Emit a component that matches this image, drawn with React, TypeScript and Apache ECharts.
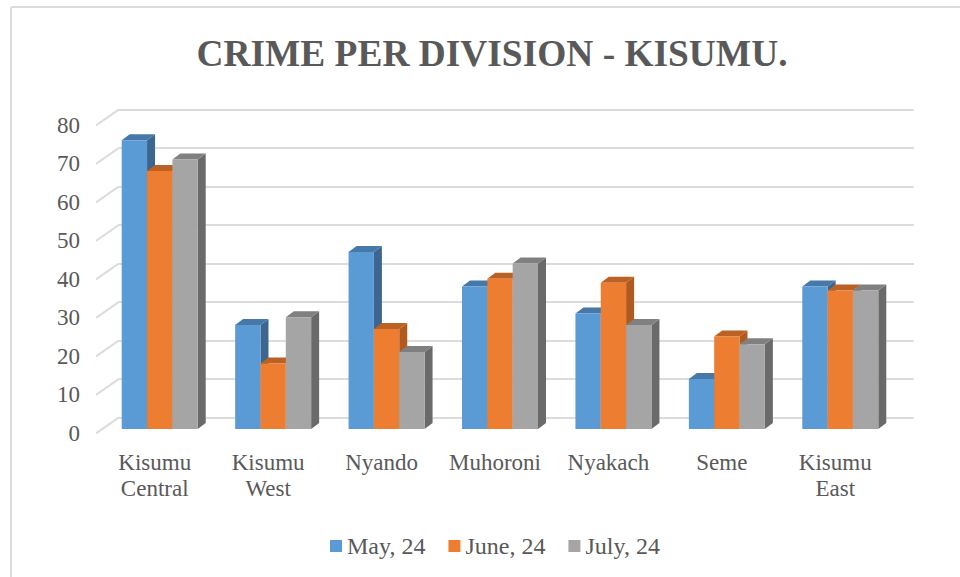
import React, { useEffect, useRef } from "react";
import * as echarts from "echarts";

const categories = ["Kisumu Central", "Kisumu West", "Nyando", "Muhoroni", "Nyakach", "Seme", "Kisumu East"];
const may = [75, 27, 46, 37, 30, 13, 37];
const june = [67, 17, 26, 39, 38, 24, 36];
const july = [70, 29, 20, 43, 27, 22, 36];
const ticks = [0, 10, 20, 30, 40, 50, 60, 70, 80];
const seriesNames = ["May, 24", "June, 24", "July, 24"];
const faces = [
  { front: "#5b9bd5", top: "#4679a8", side: "#3c6690" },
  { front: "#ed7d31", top: "#bb6124", side: "#b05a20" },
  { front: "#a5a5a5", top: "#808080", side: "#6a6a6a" },
];

const FONT = "'Liberation Serif', serif";
const TEXT = "#595959";
const LINE = "#dcdcdc";
const SHIFT_X = 5;
const SHIFT_Y = -4;
const DEPTH_X = 8;
const DEPTH_Y = 6;

function barRenderer(seriesIndex: number) {
  const face = faces[seriesIndex];
  return (_p: any, api: any) => {
    const cat = api.value(0);
    const val = api.value(1);
    const top = api.coord([cat, val]);
    const base = api.coord([cat, 0]);
    const band = api.size([1, 0])[0];
    const w = (band * 0.67) / 3;
    const x0 = top[0] + SHIFT_X + (seriesIndex - 1.5) * w;
    const x1 = x0 + w;
    const yt = top[1] + SHIFT_Y;
    const yb = base[1] + SHIFT_Y;
    return {
      type: "group",
      children: [
        {
          type: "polygon",
          shape: { points: [[x1, yt], [x1 + DEPTH_X, yt - DEPTH_Y], [x1 + DEPTH_X, yb - DEPTH_Y], [x1, yb]] },
          style: { fill: face.side },
        },
        {
          type: "polygon",
          shape: { points: [[x0, yt], [x0 + DEPTH_X, yt - DEPTH_Y], [x1 + DEPTH_X, yt - DEPTH_Y], [x1, yt]] },
          style: { fill: face.top },
        },
        { type: "rect", shape: { x: x0, y: yt, width: w, height: yb - yt }, style: { fill: face.front } },
      ],
    };
  };
}

function diagonalRenderer(params: any, api: any) {
  const left = params.coordSys.x;
  const y = api.coord([0, api.value(1)])[1];
  return {
    type: "line",
    shape: { x1: left, y1: y, x2: left - 23, y2: y + 16 },
    style: { stroke: LINE, lineWidth: 2 },
  };
}

export default function App() {
  const ref = useRef<HTMLDivElement>(null);
  useEffect(() => {
    const chart = echarts.init(ref.current!, null, { renderer: "svg" });
    const rows = [may, june, july];
    chart.setOption({
      animation: false,
      backgroundColor: "#ffffff",
      textStyle: { fontFamily: FONT },
      title: {
        text: "CRIME PER DIVISION - KISUMU.",
        left: 487,
        top: 30,
        textAlign: "center",
        textStyle: { fontFamily: FONT, fontSize: 37.4, fontWeight: "bold", color: TEXT },
      },
      legend: {
        data: seriesNames,
        left: 325,
        top: 529,
        icon: "rect",
        itemWidth: 12,
        itemHeight: 12,
        itemGap: 23,
        textStyle: { fontFamily: FONT, fontSize: 24, color: TEXT },
      },
      grid: [
        { left: 98, top: 125, width: 794, height: 308 },
        { left: 119, top: 109.4, width: 795, height: 308 },
      ],
      xAxis: [
        {
          type: "category",
          gridIndex: 0,
          data: categories,
          axisLine: { show: false },
          axisTick: { show: false },
          axisLabel: {
            interval: 0,
            margin: 16,
            fontFamily: FONT,
            fontSize: 23,
            lineHeight: 26,
            color: TEXT,
            formatter: (v: string) => v.replace(" ", "\n"),
          },
        },
        {
          type: "category",
          gridIndex: 1,
          data: categories,
          axisLine: { show: false },
          axisTick: { show: false },
          axisLabel: { show: false },
        },
      ],
      yAxis: [
        {
          type: "value",
          gridIndex: 0,
          min: 0,
          max: 80,
          interval: 10,
          axisLine: { show: false },
          axisTick: { show: false },
          splitLine: { show: false },
          axisLabel: { margin: 18, fontFamily: FONT, fontSize: 23, color: TEXT },
        },
        {
          type: "value",
          gridIndex: 1,
          min: 0,
          max: 80,
          interval: 10,
          axisLine: { show: false },
          axisTick: { show: false },
          axisLabel: { show: false },
          splitLine: { show: true, lineStyle: { color: LINE, width: 2 } },
        },
      ],
      series: [
        {
          type: "custom",
          name: "walls",
          xAxisIndex: 1,
          yAxisIndex: 1,
          silent: true,
          data: ticks.map((t) => [0, t]),
          renderItem: diagonalRenderer,
          encode: { x: 0, y: 1 },
        },
        ...seriesNames.map((name, i) => ({
          type: "custom",
          name,
          xAxisIndex: 0,
          yAxisIndex: 0,
          itemStyle: { color: faces[i].front },
          data: rows[i].map((v, c) => [c, v]),
          renderItem: barRenderer(i),
          encode: { x: 0, y: 1 },
        })),
      ],
      graphic: [
        { type: "line", shape: { x1: 11, y1: 7, x2: 960, y2: 7 }, style: { stroke: LINE, lineWidth: 2 } },
        { type: "line", shape: { x1: 11, y1: 7, x2: 11, y2: 577 }, style: { stroke: LINE, lineWidth: 2 } },
      ],
    });
    return () => chart.dispose();
  }, []);
  return <div ref={ref} style={{ position: "absolute", left: 0, top: 0, width: 960, height: 577 }} />;
}
